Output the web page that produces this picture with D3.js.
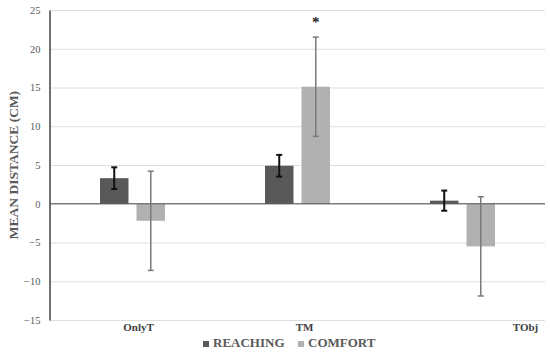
<!DOCTYPE html>
<html>
<head>
<meta charset="utf-8">
<script src="https://cdn.jsdelivr.net/npm/d3@7"></script>
<style>
  body { margin: 0; background: #fff; }
  svg text { font-family: "Liberation Serif", "DejaVu Serif", serif !important; }
</style>
</head>
<body>
<script>
const categories = ['OnlyT', 'TM', 'TObj'];
const seriesNames = ['REACHING', 'COMFORT'];
const reaching = [3.3, 4.9, 0.4];
const reachingErr = [1.4, 1.4, 1.3];
const comfort = [-2.2, 15.1, -5.5];
const comfortErr = [6.4, 6.4, 6.4];
const yTicks = [-15, -10, -5, 0, 5, 10, 15, 20, 25];
const starLabel = '*';

const width = 550;
const height = 355;
const margin = {left: 50, right: 5, top: 10, bottom: 35};

const colors = ['#595959', '#b1b1b1'];
const errColors = ['#111111', '#7a7a7a'];

const svg = d3.select('body').append('svg')
  .attr('width', width)
  .attr('height', height)
  .attr('font-family', '"Liberation Serif", serif');

const xScale = d3.scaleBand()
  .domain(categories)
  .range([margin.left, width - margin.right]);

const inner = d3.scaleBand()
  .domain(seriesNames)
  .range([-32.5, 32.5])
  .paddingInner(0.22);

const yScale = d3.scaleLinear()
  .domain([-15, 25])
  .range([height - margin.bottom, margin.top]);

// gridlines
svg.append('g')
  .selectAll('line')
  .data(yTicks)
  .join('line')
  .attr('x1', margin.left)
  .attr('x2', width - margin.right)
  .attr('y1', d => yScale(d) + 0.5)
  .attr('y2', d => yScale(d) + 0.5)
  .attr('stroke', '#dedede')
  .attr('stroke-width', 1);

// y axis
const yAxis = svg.append('g')
  .attr('transform', 'translate(' + (margin.left - 0.5) + ',0)')
  .call(d3.axisLeft(yScale).tickValues(yTicks).tickSize(0).tickPadding(9));
yAxis.attr('font-family', null);
yAxis.select('.domain').attr('stroke', '#404040').attr('stroke-width', 1.5);
yAxis.selectAll('text')
  .attr('font-size', 10.5)
  .attr('fill', '#595959');

svg.append('text')
  .attr('transform', 'translate(18,' + yScale(5) + ') rotate(-90)')
  .attr('text-anchor', 'middle')
  .attr('font-size', 13.5)
  .attr('font-weight', 'bold')
  .attr('fill', '#595959')
  .text('MEAN DISTANCE (CM)');

// bars
const rows = [];
categories.forEach((c, i) => {
  rows.push({cat: c, s: 0, v: reaching[i], e: reachingErr[i]});
  rows.push({cat: c, s: 1, v: comfort[i], e: comfortErr[i]});
});

const bx = d => xScale(d.cat) + xScale.bandwidth() / 2 + inner(seriesNames[d.s]);

svg.append('g')
  .selectAll('rect')
  .data(rows)
  .join('rect')
  .attr('x', bx)
  .attr('width', inner.bandwidth())
  .attr('y', d => yScale(Math.max(0, d.v)))
  .attr('height', d => Math.abs(yScale(d.v) - yScale(0)))
  .attr('fill', d => colors[d.s]);

// zero line
svg.append('line')
  .attr('x1', margin.left)
  .attr('x2', width - margin.right)
  .attr('y1', yScale(0))
  .attr('y2', yScale(0))
  .attr('stroke', '#505050')
  .attr('stroke-width', 1.2);

// error bars
const errG = svg.append('g')
  .selectAll('g')
  .data(rows)
  .join('g')
  .attr('stroke', d => errColors[d.s])
  .attr('stroke-width', d => d.s === 0 ? 2 : 1.5);

const cx = d => bx(d) + inner.bandwidth() / 2;

errG.append('line')
  .attr('x1', cx).attr('x2', cx)
  .attr('y1', d => yScale(d.v + d.e))
  .attr('y2', d => yScale(d.v - d.e));
errG.append('line')
  .attr('x1', d => cx(d) - 3).attr('x2', d => cx(d) + 3)
  .attr('y1', d => yScale(d.v + d.e))
  .attr('y2', d => yScale(d.v + d.e));
errG.append('line')
  .attr('x1', d => cx(d) - 3).attr('x2', d => cx(d) + 3)
  .attr('y1', d => yScale(d.v - d.e))
  .attr('y2', d => yScale(d.v - d.e));

// significance marker
svg.append('text')
  .attr('x', cx(rows[3]))
  .attr('y', yScale(comfort[1] + comfortErr[1]) - 10)
  .attr('text-anchor', 'middle')
  .attr('font-size', 15)
  .attr('font-weight', 'bold')
  .attr('fill', '#222')
  .text(starLabel);

// category labels (placed as in the original)
const labelShift = [6, 7, 63];
svg.append('g')
  .selectAll('text')
  .data(categories)
  .join('text')
  .attr('x', (d, i) => xScale(d) + xScale.bandwidth() / 2 + labelShift[i])
  .attr('y', yScale(-15) + 11)
  .attr('text-anchor', 'middle')
  .attr('font-size', 11)
  .attr('font-weight', 'bold')
  .attr('fill', '#404040')
  .text(d => d);

// legend
const legendX = [203, 298];
const legend = svg.append('g')
  .selectAll('g')
  .data(seriesNames)
  .join('g')
  .attr('transform', (d, i) => 'translate(' + legendX[i] + ',' + 347 + ')');
legend.append('rect')
  .attr('x', 0).attr('y', -6)
  .attr('width', 6).attr('height', 6)
  .attr('fill', (d, i) => colors[i]);
legend.append('text')
  .attr('x', 10)
  .attr('y', 0)
  .attr('font-size', 13)
  .attr('font-weight', 'bold')
  .attr('fill', '#595959')
  .text(d => d);
</script>
</body>
</html>
